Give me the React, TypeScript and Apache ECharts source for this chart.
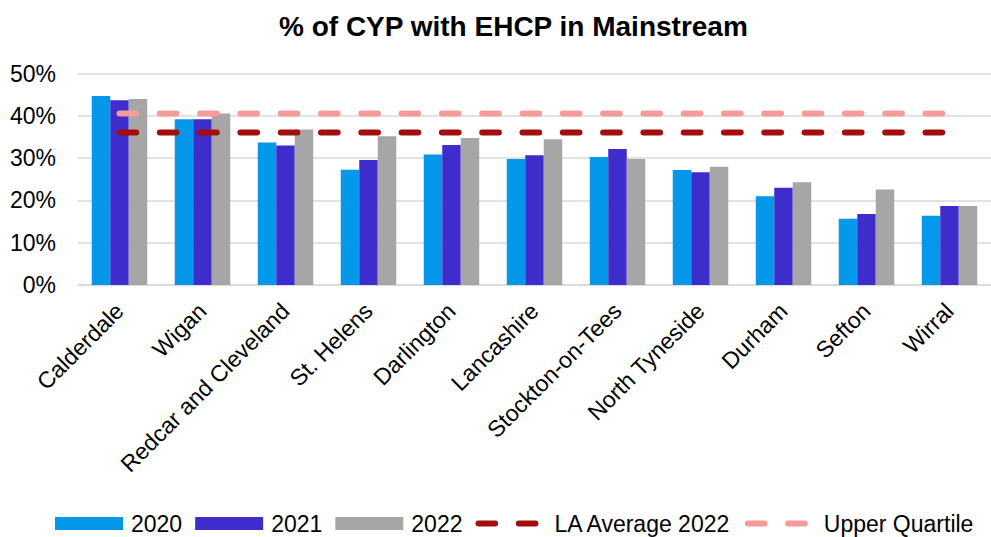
import React, { useEffect, useRef } from "react";
import * as echarts from "echarts";

const categories = [
  "Calderdale",
  "Wigan",
  "Redcar and Cleveland",
  "St. Helens",
  "Darlington",
  "Lancashire",
  "Stockton-on-Tees",
  "North Tyneside",
  "Durham",
  "Sefton",
  "Wirral",
];
const values2020 = [44.7, 39.2, 33.7, 27.3, 30.9, 29.8, 30.3, 27.2, 21.0, 15.7, 16.4];
const values2021 = [43.7, 39.2, 33.0, 29.6, 33.1, 30.7, 32.2, 26.7, 23.0, 16.8, 18.7];
const values2022 = [44.0, 40.6, 36.8, 35.2, 34.8, 34.5, 29.8, 28.0, 24.3, 22.6, 18.7];
const laAverage2022 = [36.1, 36.1, 36.1, 36.1, 36.1, 36.1, 36.1, 36.1, 36.1, 36.1, 36.1];
const upperQuartile = [40.6, 40.6, 40.6, 40.6, 40.6, 40.6, 40.6, 40.6, 40.6, 40.6, 40.6];
const yTicks = [0, 10, 20, 30, 40, 50];

const FONT = "'Liberation Sans', Arial, sans-serif";

export default function App() {
  const ref = useRef<HTMLDivElement>(null);
  useEffect(() => {
    if (!ref.current) return;
    const chart = echarts.init(ref.current, null, { renderer: "svg" });
    const barCommon = {
      type: "bar" as const,
      barWidth: 18.5,
      barGap: "0%",
    };
    const dash = [16.7, 23.6];
    chart.setOption({
      animation: false,
      textStyle: { fontFamily: FONT },
      title: {
        text: "% of CYP with EHCP in Mainstream",
        left: 274,
        top: 7,
        textStyle: { fontFamily: FONT, fontSize: 28, fontWeight: "bold", color: "#000" },
      },
      legend: {
        left: 50,
        top: 507,
        itemWidth: 68,
        itemHeight: 13,
        itemGap: 13,
        textStyle: { fontFamily: FONT, fontSize: 23, color: "#000", padding: [0, 0, 0, 3] },
        lineStyle: { width: 6 },
        data: [
          { name: "2020", icon: "rect" },
          { name: "2021", icon: "rect" },
          { name: "2022", icon: "rect" },
          { name: "LA Average 2022", itemStyle: { opacity: 0 } },
          { name: "Upper Quartile", itemStyle: { opacity: 0 } },
        ],
      },
      grid: { left: 78, right: -6, top: 73.7, bottom: 252, containLabel: false },
      xAxis: {
        type: "category",
        data: categories,
        axisLine: { lineStyle: { color: "#D9D9D9", width: 1.5 } },
        axisTick: { show: false },
        axisLabel: {
          rotate: 45,
          interval: 0,
          margin: 22,
          fontFamily: FONT,
          fontSize: 23,
          color: "#000",
        },
      },
      yAxis: {
        type: "value",
        min: yTicks[0],
        max: yTicks[yTicks.length - 1],
        interval: 10,
        axisLine: { show: false },
        axisTick: { show: false },
        splitLine: { lineStyle: { color: "#D9D9D9", width: 1.5 } },
        axisLabel: {
          formatter: "{value}%",
          margin: 22,
          fontFamily: FONT,
          fontSize: 23,
          color: "#000",
        },
      },
      series: [
        { ...barCommon, name: "2020", data: values2020, itemStyle: { color: "#0597EA" } },
        { ...barCommon, name: "2021", data: values2021, itemStyle: { color: "#3E2DCB" } },
        { ...barCommon, name: "2022", data: values2022, itemStyle: { color: "#A6A6A6" } },
        {
          type: "line",
          name: "LA Average 2022",
          data: laAverage2022,
          symbol: "none",
          itemStyle: { color: "#A30E0E" },
          lineStyle: { color: "#A30E0E", width: 6, type: dash, cap: "round" },
        },
        {
          type: "line",
          name: "Upper Quartile",
          data: upperQuartile,
          symbol: "none",
          itemStyle: { color: "#F59C9B" },
          lineStyle: { color: "#F59C9B", width: 6, type: dash, cap: "round" },
        },
      ],
    });
    return () => chart.dispose();
  }, []);
  return (
    <div
      ref={ref}
      style={{ position: "fixed", left: 0, top: 0, width: 991, height: 537, background: "#fff" }}
    />
  );
}
